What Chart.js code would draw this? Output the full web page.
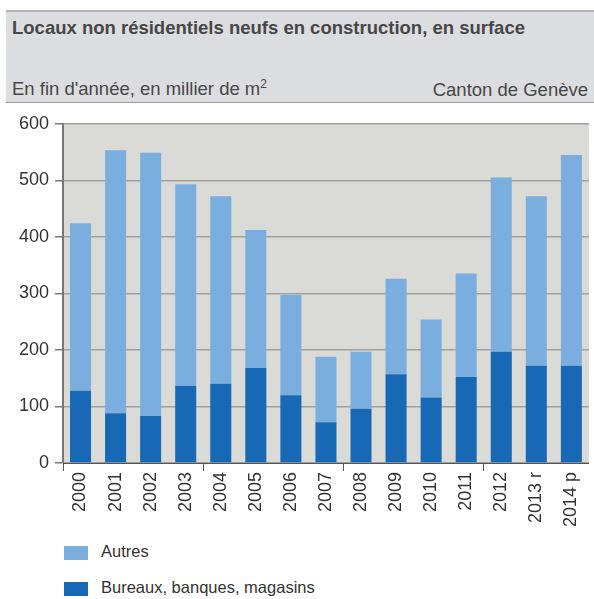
<!DOCTYPE html>
<html>
<head>
<meta charset="utf-8">
<script src="https://cdn.jsdelivr.net/npm/chart.js@4"></script>
<style>
  body { margin: 0; width: 594px; height: 599px; background: #fff; font-family: "Liberation Sans", Arial, sans-serif; position: relative; overflow: hidden; }
  #head { position: absolute; left: 6px; top: 10px; width: 588px; height: 90px; background: #dcdde0; border-top: 2px solid #b5b5b5; border-bottom: 1px solid #9a9a9a; }
  #title { position: absolute; left: 6px; top: 5px; font-size: 18.5px; font-weight: bold; color: #474747; }
  #sub { position: absolute; left: 6px; top: 65px; font-size: 18.5px; color: #474747; }
  #sub sup { font-size: 12px; }
  #canton { position: absolute; right: 6px; top: 67px; font-size: 18.5px; color: #474747; }
  #wrap { position: absolute; left: 0; top: 107px; width: 594px; height: 433px; }
  .leg { position: absolute; left: 64px; font-size: 16.5px; color: #333; }
  .leg span { display: inline-block; width: 24px; height: 14px; vertical-align: middle; margin-right: 13px; }
</style>
</head>
<body>
<div id="head">
  <div id="title">Locaux non résidentiels neufs en construction, en surface</div>
  <div id="sub">En fin d'année, en millier de m<sup>2</sup></div>
  <div id="canton">Canton de Genève</div>
</div>
<div id="wrap"><canvas id="myChart"></canvas></div>
<div class="leg" style="top:542px"><span style="background:#7aaede"></span>Autres</div>
<div class="leg" style="top:578px"><span style="background:#1869b5"></span>Bureaux, banques, magasins</div>
<script>
const years = ['2000', '2001', '2002', '2003', '2004', '2005', '2006', '2007', '2008', '2009', '2010', '2011', '2012', '2013 r', '2014 p'];
const bureaux = [128, 88, 83, 136, 140, 168, 120, 72, 96, 157, 116, 152, 197, 172, 172];
const autres = [296, 465, 466, 357, 332, 244, 177, 116, 101, 169, 138, 183, 308, 300, 373];

const plotBg = {
  id: 'plotBg',
  beforeDraw(chart) {
    const a = chart.chartArea;
    const c = chart.ctx;
    c.save();
    c.fillStyle = '#dadad6';
    c.fillRect(a.left, a.top, a.right - a.left, a.bottom - a.top);
    c.restore();
  }
};

const ctx = document.getElementById('myChart');
const tickFont = { family: '"Liberation Sans", Arial, sans-serif', size: 18 };

let chart = new Chart(ctx, {
  type: 'bar',
  data: {
    labels: years,
    datasets: [
      { label: 'Bureaux, banques, magasins', data: bureaux, backgroundColor: '#1869b5', barPercentage: 0.6, categoryPercentage: 1 },
      { label: 'Autres', data: autres, backgroundColor: '#7aaede', barPercentage: 0.6, categoryPercentage: 1 }
    ]
  },
  options: {
    responsive: true,
    maintainAspectRatio: false,
    animation: false,
    layout: { padding: { top: 11, right: 1, left: 0, bottom: 0 } },
    plugins: { legend: { display: false }, tooltip: { enabled: false } },
    scales: {
      x: {
        stacked: true,
        afterFit(s) { s.height = 77; },
        border: { color: '#555', width: 1 },
        grid: {
          offset: true,
          drawOnChartArea: false,
          tickLength: 8,
          tickColor: (c) => (c.index % 4 === 0 ? '#555' : 'rgba(0,0,0,0)')
        },
        ticks: { minRotation: 90, maxRotation: 90, padding: 1, color: '#333', autoSkip: false, font: tickFont }
      },
      y: {
        stacked: true,
        min: 0,
        max: 600,
        afterFit(s) { s.width = 63; },
        border: { color: '#777', width: 2 },
        grid: { color: '#a0a0a0', tickColor: '#777', tickLength: 8, lineWidth: 1.5 },
        ticks: { stepSize: 100, padding: 6, color: '#333', font: tickFont }
      }
    }
  },
  plugins: [plotBg]
});
</script>
</body>
</html>
